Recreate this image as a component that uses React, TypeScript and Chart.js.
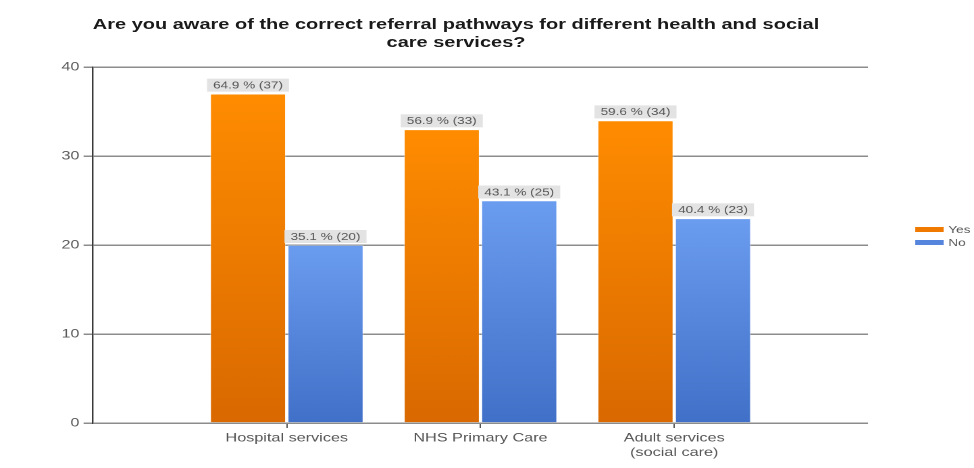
import React, { useEffect, useRef } from 'react';
import { Chart, registerables } from 'chart.js';

Chart.register(...registerables);

// ---------- data ----------
const titleLines = [
  'Are you aware of the correct referral pathways for different health and social',
  'care services?',
];
const categories: (string | string[])[] = [
  'Hospital services',
  'NHS Primary Care',
  ['Adult services', '(social care)'],
];
const categoryPositions = [1, 2, 3];
const seriesNames = ['Yes', 'No'];
const yesCounts = [37, 33, 34];
const noCounts = [20, 25, 23];
const yesPercents = [64.9, 56.9, 59.6];
const noPercents = [35.1, 43.1, 40.4];
const yMin = 0;
const yMax = 40;
const yStep = 10;

// ---------- layout (unscaled drawing space, stretched horizontally) ----------
const W = 721;
const H = 468;
const SX = 974 / W;
const AREA_LEFT = 93 / SX;
const AREA_RIGHT = 868 / SX;
const AREA_TOP = 67;
const AREA_BOTTOM = 423;
const FONT = "'Liberation Sans', Arial, Helvetica, sans-serif";

const colors = [
  { top: '#ff8c00', bottom: '#d96900', solid: '#f07a00' },
  { top: '#6a9cef', bottom: '#4170c8', solid: '#5585dc' },
];

function barGradient(context: any, top: string, bottom: string) {
  const chart = context.chart;
  const yScale = chart.scales && chart.scales.y;
  if (!yScale || context.type !== 'data') return top;
  const v = context.raw && typeof context.raw === 'object' ? context.raw.y : context.raw;
  const y0 = yScale.getPixelForValue(v);
  const y1 = yScale.getPixelForValue(0);
  if (!isFinite(y0) || !isFinite(y1) || y0 === y1) return top;
  const g = chart.ctx.createLinearGradient(0, y0, 0, y1);
  g.addColorStop(0, top);
  g.addColorStop(1, bottom);
  return g;
}

const percentSets = [yesPercents, noPercents];
const countSets = [yesCounts, noCounts];

const valueLabelPlugin = {
  id: 'valueLabels',
  afterDatasetsDraw(chart: any) {
    const ctx = chart.ctx;
    ctx.save();
    ctx.font = `10px ${FONT}`;
    ctx.textAlign = 'center';
    ctx.textBaseline = 'middle';
    chart.data.datasets.forEach((ds: any, di: number) => {
      const meta = chart.getDatasetMeta(di);
      meta.data.forEach((el: any, i: number) => {
        const text = `${percentSets[di][i].toFixed(1)} % (${countSets[di][i]})`;
        const w = ctx.measureText(text).width + 9;
        const h = 13;
        const bx = el.x - w / 2;
        const by = el.y - 2 - h;
        ctx.fillStyle = '#e3e3e3';
        ctx.fillRect(bx, by, w, h);
        ctx.fillStyle = '#555555';
        ctx.fillText(text, el.x, by + h / 2 + 0.5);
      });
    });
    ctx.restore();
  },
};

const legendPlugin = {
  id: 'sideLegend',
  afterDraw(chart: any) {
    const ctx = chart.ctx;
    ctx.save();
    ctx.font = `10px ${FONT}`;
    ctx.textAlign = 'left';
    ctx.textBaseline = 'middle';
    chart.data.datasets.forEach((ds: any, di: number) => {
      const y = 227 + di * 13;
      ctx.fillStyle = colors[di].solid;
      ctx.fillRect(677.5, y, 21, 5);
      ctx.fillStyle = '#555555';
      ctx.fillText(ds.label, 702, y + 3);
    });
    ctx.restore();
  },
};

export default function App() {
  const canvasRef = useRef<HTMLCanvasElement | null>(null);

  useEffect(() => {
    if (!canvasRef.current) return;
    const chart = new Chart(canvasRef.current, {
      type: 'bar',
      data: {
        datasets: [
          {
            label: seriesNames[0],
            data: yesCounts.map((v, i) => ({ x: categoryPositions[i], y: v })),
            backgroundColor: (c: any) => barGradient(c, colors[0].top, colors[0].bottom),
            borderColor: 'rgba(255,255,255,0.35)',
            borderWidth: 0.8,
          },
          {
            label: seriesNames[1],
            data: noCounts.map((v, i) => ({ x: categoryPositions[i], y: v })),
            backgroundColor: (c: any) => barGradient(c, colors[1].top, colors[1].bottom),
            borderColor: 'rgba(255,255,255,0.35)',
            borderWidth: 0.8,
          },
        ],
      },
      options: {
        animation: false,
        responsive: false,
        devicePixelRatio: 2,
        categoryPercentage: 0.8,
        barPercentage: 0.985,
        layout: {
          padding: { top: AREA_TOP, right: W - AREA_RIGHT, left: 0, bottom: 0 },
        },
        plugins: {
          legend: { display: false },
          title: { display: false },
          tooltip: { enabled: false },
        },
        scales: {
          x: {
            type: 'linear',
            offset: false,
            min: 0,
            max: categories.length + 1,
            afterFit: (s: any) => {
              s.height = H - AREA_BOTTOM;
            },
            ticks: {
              stepSize: 1,
              autoSkip: false,
              maxRotation: 0,
              padding: 3,
              color: '#555555',
              font: { family: FONT, size: 12 },
              callback: (v: any) => {
                const idx = categoryPositions.indexOf(Number(v));
                return idx >= 0 ? categories[idx] : '';
              },
            },
            grid: {
              offset: false,
              drawOnChartArea: false,
              tickLength: 5,
              tickColor: (c: any) =>
                c.tick && categoryPositions.includes(c.tick.value) ? '#555555' : 'rgba(0,0,0,0)',
            },
            border: { display: false },
          },
          y: {
            type: 'linear',
            min: yMin,
            max: yMax,
            afterFit: (s: any) => {
              s.width = AREA_LEFT;
            },
            ticks: {
              stepSize: yStep,
              padding: 3,
              color: '#5a5a5a',
              font: { family: FONT, size: 12 },
            },
            grid: {
              color: '#8c8c8c',
              lineWidth: 1.5,
              tickLength: 7,
            },
            border: { display: true, color: '#3a3a3a', width: 1.2 },
          },
        },
      } as any,
      plugins: [valueLabelPlugin, legendPlugin],
    });
    return () => chart.destroy();
  }, []);

  return (
    <div
      style={{
        position: 'fixed',
        left: 0,
        top: 0,
        width: 974,
        height: 468,
        overflow: 'hidden',
        background: '#ffffff',
      }}
    >
      <div
        style={{
          position: 'absolute',
          left: 0,
          top: 0,
          width: W,
          height: H,
          transform: `scaleX(${SX})`,
          transformOrigin: '0 0',
        }}
      >
        <div
          style={{
            position: 'absolute',
            left: 0,
            top: 15,
            width: (456 / SX) * 2,
            textAlign: 'center',
            fontFamily: FONT,
            fontWeight: 'bold',
            fontSize: 14.8,
            lineHeight: '18px',
            color: '#1a1a1a',
            whiteSpace: 'nowrap',
          }}
        >
          {titleLines.map((t, i) => (
            <div key={i}>{t}</div>
          ))}
        </div>
        <canvas
          ref={canvasRef}
          width={W}
          height={H}
          style={{ position: 'absolute', left: 0, top: 0, width: W, height: H }}
        />
      </div>
    </div>
  );
}
